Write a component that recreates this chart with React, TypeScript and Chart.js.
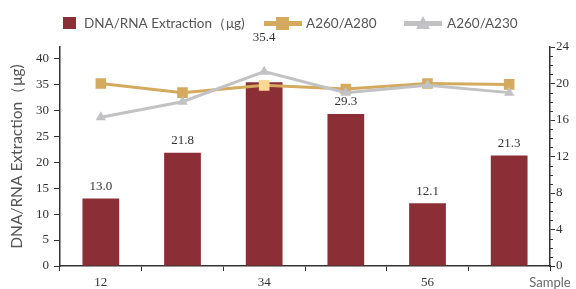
import { useEffect, useRef } from 'react';
import { Chart, registerables } from 'chart.js';

Chart.register(...registerables);

const sampleLabels = ['12', '', '34', '', '56', ''];
const extraction = [13.0, 21.8, 35.4, 29.3, 12.1, 21.3];
const a260a280 = [20.0, 19.0, 19.8, 19.4, 20.0, 19.9];
const a260a230 = [16.3, 18.0, 21.3, 19.0, 19.8, 19.0];
const leftTicks = [0, 5, 10, 15, 20, 25, 30, 35, 40];
const rightTicks = [0, 4, 8, 12, 16, 20, 24];
const highlightIndex = 2;

const BAR = '#8b2e36';
const GOLD = '#d4aa5e';
const GOLD_LIGHT = '#fbd995';
const GRAY = '#c2c2c4';
const AXIS = '#333333';
const SERIF = '"Liberation Serif", "Times New Roman", serif';
const SANS = 'Lato, "Noto Sans", sans-serif';
const BAR_LABEL = 'DNA/RNA Extraction（μg)';

const decor = {
  id: 'decor',
  afterDatasetsDraw(chart: any) {
    const { ctx, chartArea } = chart;
    const barMeta = chart.getDatasetMeta(2);
    const lineMetas = [chart.getDatasetMeta(0), chart.getDatasetMeta(1)];
    ctx.save();
    ctx.font = `13px ${SERIF}`;
    ctx.fillStyle = '#333';
    ctx.textAlign = 'center';
    ctx.textBaseline = 'middle';
    barMeta.data.forEach((bar: any, i: number) => {
      const lowest = Math.max(...lineMetas.map((m: any) => m.data[i].y));
      let y = bar.y - 12;
      if (bar.y < lowest + 10) y = chartArea.top - 9;
      ctx.fillText(extraction[i].toFixed(1), bar.x, y);
    });
    ctx.restore();
  },
  afterDraw(chart: any) {
    const { ctx, chartArea } = chart;
    ctx.save();
    // minor ticks on the right axis
    const s = chart.scales.y1;
    ctx.strokeStyle = AXIS;
    ctx.lineWidth = 1;
    for (let v = 1; v < 24; v++) {
      if (v % 4 === 0) continue;
      const y = Math.round(s.getPixelForValue(v)) + 0.5;
      ctx.beginPath();
      ctx.moveTo(s.left, y);
      ctx.lineTo(s.left + 3, y);
      ctx.stroke();
    }
    // x axis name
    ctx.font = `13px ${SANS}`;
    ctx.fillStyle = '#666';
    ctx.textAlign = 'center';
    ctx.textBaseline = 'middle';
    ctx.fillText('Sample', chartArea.right, 283);

    // legend
    const ly = 23.5;
    ctx.font = `13.5px ${SANS}`;
    ctx.textAlign = 'left';
    ctx.fillStyle = BAR;
    ctx.fillRect(63, 17, 13, 12);
    ctx.fillStyle = '#555';
    ctx.fillText(BAR_LABEL, 84, ly);

    ctx.strokeStyle = GOLD;
    ctx.lineWidth = 5;
    ctx.beginPath();
    ctx.moveTo(264, ly);
    ctx.lineTo(302, ly);
    ctx.stroke();
    ctx.fillStyle = GOLD;
    ctx.fillRect(276, 17, 13, 13);
    ctx.fillStyle = '#555';
    ctx.fillText('A260/A280', 306, ly);

    ctx.strokeStyle = GRAY;
    ctx.beginPath();
    ctx.moveTo(404, ly);
    ctx.lineTo(442, ly);
    ctx.stroke();
    ctx.fillStyle = GRAY;
    ctx.beginPath();
    ctx.moveTo(423, 16);
    ctx.lineTo(430, 29);
    ctx.lineTo(416, 29);
    ctx.closePath();
    ctx.fill();
    ctx.fillStyle = '#555';
    ctx.fillText('A260/A230', 447, ly);
    ctx.restore();
  },
};

export default function App() {
  const ref = useRef<HTMLCanvasElement | null>(null);
  useEffect(() => {
    if (!ref.current) return;
    const chart = new Chart(ref.current, {
      type: 'bar',
      data: {
        labels: sampleLabels,
        datasets: [
          {
            type: 'line',
            label: 'A260/A230',
            data: a260a230,
            yAxisID: 'y1',
            borderColor: GRAY,
            backgroundColor: GRAY,
            borderWidth: 3,
            pointStyle: 'triangle',
            pointRadius: 6,
            pointBackgroundColor: GRAY,
            pointBorderWidth: 0,
            tension: 0,
            order: 1,
          } as any,
          {
            type: 'line',
            label: 'A260/A280',
            data: a260a280,
            yAxisID: 'y1',
            borderColor: GOLD,
            backgroundColor: GOLD,
            borderWidth: 3,
            pointStyle: 'rect',
            pointRadius: 7.5,
            pointBackgroundColor: a260a280.map((_, i) => (i === highlightIndex ? GOLD_LIGHT : GOLD)),
            pointBorderWidth: 0,
            tension: 0,
            order: 2,
          } as any,
          {
            type: 'bar',
            label: BAR_LABEL,
            data: extraction,
            yAxisID: 'y',
            backgroundColor: BAR,
            barPercentage: 0.45,
            categoryPercentage: 1,
            order: 3,
          } as any,
        ],
      },
      options: {
        animation: false,
        responsive: true,
        maintainAspectRatio: false,
        layout: { padding: { top: 47, left: 0, right: 0, bottom: 0 } },
        plugins: { legend: { display: false }, tooltip: { enabled: false } },
        scales: {
          x: {
            offset: true,
            grid: { display: true, drawOnChartArea: false, drawTicks: true, tickLength: 5, color: AXIS, offset: true },
            border: { display: true, color: AXIS, width: 1.5 },
            ticks: { font: { family: SERIF, size: 13 }, color: '#333', padding: 4, autoSkip: false, maxRotation: 0 },
            afterFit: (s: any) => { s.height = 23; },
          },
          y: {
            position: 'left',
            min: 0,
            max: 42.2,
            ticks: { font: { family: SERIF, size: 13 }, color: '#333', padding: 5 },
            afterBuildTicks: (s: any) => { s.ticks = leftTicks.map((v) => ({ value: v })); },
            grid: { drawOnChartArea: false, tickLength: 6, color: AXIS },
            border: { display: true, color: AXIS, width: 1.5 },
            title: { display: true, text: BAR_LABEL, font: { family: SANS, size: 15.5 }, color: '#555', padding: { top: 8, bottom: 0 } },
            afterFit: (s: any) => { s.width = 60; },
          },
          y1: {
            position: 'right',
            min: 0,
            max: 24,
            ticks: { font: { family: SERIF, size: 13 }, color: '#333', padding: 1 },
            afterBuildTicks: (s: any) => { s.ticks = rightTicks.map((v) => ({ value: v })); },
            grid: { drawOnChartArea: false, tickLength: 5, color: AXIS },
            border: { display: true, color: AXIS, width: 1.5 },
            afterFit: (s: any) => { s.width = 26; },
          },
        },
      } as any,
      plugins: [decor],
    });
    return () => chart.destroy();
  }, []);
  return (
    <div style={{ position: 'absolute', left: 0, top: 0, width: 576, height: 289 }}>
      <canvas ref={ref} />
    </div>
  );
}
